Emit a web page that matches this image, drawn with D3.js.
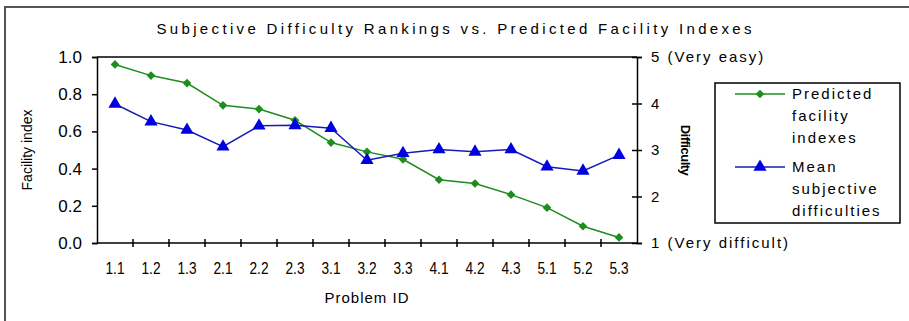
<!DOCTYPE html>
<html>
<head>
<meta charset="utf-8">
<script src="https://cdn.jsdelivr.net/npm/d3@7"></script>
<style>
  body { margin: 0; background: #fff; }
  svg { font-family: "Liberation Sans", Arial, sans-serif; }
</style>
</head>
<body>
<div id="chart"></div>
<script>
// data
const problemIds = ["1.1","1.2","1.3","2.1","2.2","2.3","3.1","3.2","3.3","4.1","4.2","4.3","5.1","5.2","5.3"];
const facilityIndex = [0.96, 0.90, 0.86, 0.74, 0.72, 0.66, 0.54, 0.49, 0.45, 0.34, 0.32, 0.26, 0.19, 0.09, 0.03];
const meanDifficulty = [3.99, 3.61, 3.43, 3.07, 3.52, 3.53, 3.47, 2.78, 2.93, 3.01, 2.96, 3.01, 2.64, 2.55, 2.89];
const leftTicks = [0, 0.2, 0.4, 0.6, 0.8, 1.0];
const rightTicks = [1, 2, 3, 4, 5];
const rightTickLabels = {1: "1 (Very difficult)", 5: "5 (Very easy)"};

const W = 909, H = 321;
const margin = {top: 57, right: 272, bottom: 78, left: 97};
const green = "#1e8c1e", blue = "#1a1ab4";

const svg = d3.select("#chart").append("svg")
    .attr("width", W)
    .attr("height", H);

// outer frame
svg.append("rect")
    .attr("x", 5).attr("y", 7)
    .attr("width", 910).attr("height", 330)
    .attr("fill", "none")
    .attr("stroke", "#555")
    .attr("stroke-width", 2);

const x = d3.scaleBand()
    .domain(problemIds)
    .range([margin.left, W - margin.right]);

const yL = d3.scaleLinear().domain([0, 1]).range([H - margin.bottom, margin.top]);
const yR = d3.scaleLinear().domain([1, 5]).range([H - margin.bottom, margin.top]);

// title
svg.append("text")
    .attr("x", 454).attr("y", 34)
    .attr("text-anchor", "middle")
    .attr("font-size", 15)
    .attr("textLength", 595)
    .attr("lengthAdjust", "spacing")
    .text("Subjective Difficulty Rankings vs. Predicted Facility Indexes");

// plot frame top
svg.append("line")
    .attr("x1", margin.left).attr("x2", W - margin.right)
    .attr("y1", margin.top).attr("y2", margin.top)
    .attr("stroke", "#000").attr("stroke-width", 1.5);

// left axis
const leftAxis = svg.append("g")
    .attr("transform", `translate(${margin.left},0)`)
    .call(d3.axisLeft(yL).tickValues(leftTicks).tickFormat(d3.format(".1f")).tickSize(5).tickPadding(10));

// right axis
const rightAxis = svg.append("g")
    .attr("transform", `translate(${W - margin.right},0)`)
    .call(d3.axisRight(yR).tickValues(rightTicks).tickFormat(d => rightTickLabels[d] || d).tickSize(5).tickPadding(9));
rightAxis.selectAll(".tick line").attr("x1", -5);

// bottom axis: ticks on band edges
const bottomAxis = svg.append("g")
    .attr("transform", `translate(0,${H - margin.bottom})`)
    .call(d3.axisBottom(x).tickSize(0).tickPadding(20));
bottomAxis.selectAll(".tick line").remove();
bottomAxis.selectAll(".edge")
    .data(problemIds.slice(1))
    .enter().append("line")
    .attr("class", "edge")
    .attr("x1", d => x(d)).attr("x2", d => x(d))
    .attr("y1", -4).attr("y2", 4)
    .attr("stroke", "#000").attr("stroke-width", 1.5);

[leftAxis, rightAxis, bottomAxis].forEach(g => {
    g.select(".domain").attr("stroke", "#000").attr("stroke-width", 1.5);
    g.selectAll(".tick line").attr("stroke", "#000").attr("stroke-width", 1.5);
    g.selectAll("text").attr("fill", "#000").attr("font-family", "Liberation Sans, Arial, sans-serif");
});
leftAxis.selectAll("text").attr("font-size", 17);
rightAxis.selectAll("text").attr("font-size", 15).attr("letter-spacing", 2);
bottomAxis.selectAll("text")
    .attr("font-size", 16)
    .attr("textLength", 19)
    .attr("lengthAdjust", "spacingAndGlyphs");
bottomAxis.select(".domain").attr("d", `M${margin.left},0H${W - margin.right}`);

// axis titles
svg.append("text")
    .attr("transform", `translate(32,${(margin.top + H - margin.bottom) / 2}) rotate(-90)`)
    .attr("text-anchor", "middle")
    .attr("font-size", 14)
    .text("Facility index");

svg.append("text")
    .attr("transform", `translate(681,${(margin.top + H - margin.bottom) / 2}) rotate(90)`)
    .attr("text-anchor", "middle")
    .attr("font-size", 13)
    .attr("font-weight", "bold")
    .attr("letter-spacing", -0.5)
    .text("Difficulty");

svg.append("text")
    .attr("x", (margin.left + W - margin.right) / 2)
    .attr("y", 303)
    .attr("text-anchor", "middle")
    .attr("font-size", 15)
    .attr("letter-spacing", 1)
    .text("Problem ID");

// series
const cx = d => x(d) + x.bandwidth() / 2;

const greenLine = d3.line()
    .x((d, i) => cx(problemIds[i]))
    .y(d => yL(d));
const blueLine = d3.line()
    .x((d, i) => cx(problemIds[i]))
    .y(d => yR(d));

svg.append("path")
    .datum(facilityIndex)
    .attr("d", greenLine)
    .attr("fill", "none")
    .attr("stroke", green)
    .attr("stroke-width", 1.5);

svg.append("path")
    .datum(meanDifficulty)
    .attr("d", blueLine)
    .attr("fill", "none")
    .attr("stroke", blue)
    .attr("stroke-width", 1.5);

const diamond = d3.symbol().type(d3.symbolDiamond2).size(48);
const triangle = d3.symbol().type(d3.symbolTriangle).size(75);

svg.selectAll(".gdot")
    .data(facilityIndex)
    .enter().append("path")
    .attr("class", "gdot")
    .attr("d", diamond)
    .attr("transform", (d, i) => `translate(${cx(problemIds[i])},${yL(d)})`)
    .attr("fill", green);

svg.selectAll(".btri")
    .data(meanDifficulty)
    .enter().append("path")
    .attr("class", "btri")
    .attr("d", triangle)
    .attr("transform", (d, i) => `translate(${cx(problemIds[i])},${yR(d)})`)
    .attr("fill", "#0000e0");

// legend
const legend = svg.append("g");
legend.append("rect")
    .attr("x", 715).attr("y", 83)
    .attr("width", 185).attr("height", 140)
    .attr("fill", "#fff")
    .attr("stroke", "#000")
    .attr("stroke-width", 1.5);

const legendItems = [
    {lines: ["Predicted", "facility", "indexes"], color: green, sym: diamond, fill: green, y: 94},
    {lines: ["Mean", "subjective", "difficulties"], color: blue, sym: triangle, fill: "#0000e0", y: 167}
];
legendItems.forEach(item => {
    legend.append("line")
        .attr("x1", 735).attr("x2", 785)
        .attr("y1", item.y).attr("y2", item.y)
        .attr("stroke", item.color).attr("stroke-width", 1.5);
    legend.append("path")
        .attr("d", item.sym)
        .attr("transform", `translate(760,${item.y})`)
        .attr("fill", item.fill);
    item.lines.forEach((t, j) => {
        legend.append("text")
            .attr("x", 792)
            .attr("y", item.y + 5 + j * 22)
            .attr("font-size", 15)
            .attr("letter-spacing", 2)
            .text(t);
    });
});
</script>
</body>
</html>
